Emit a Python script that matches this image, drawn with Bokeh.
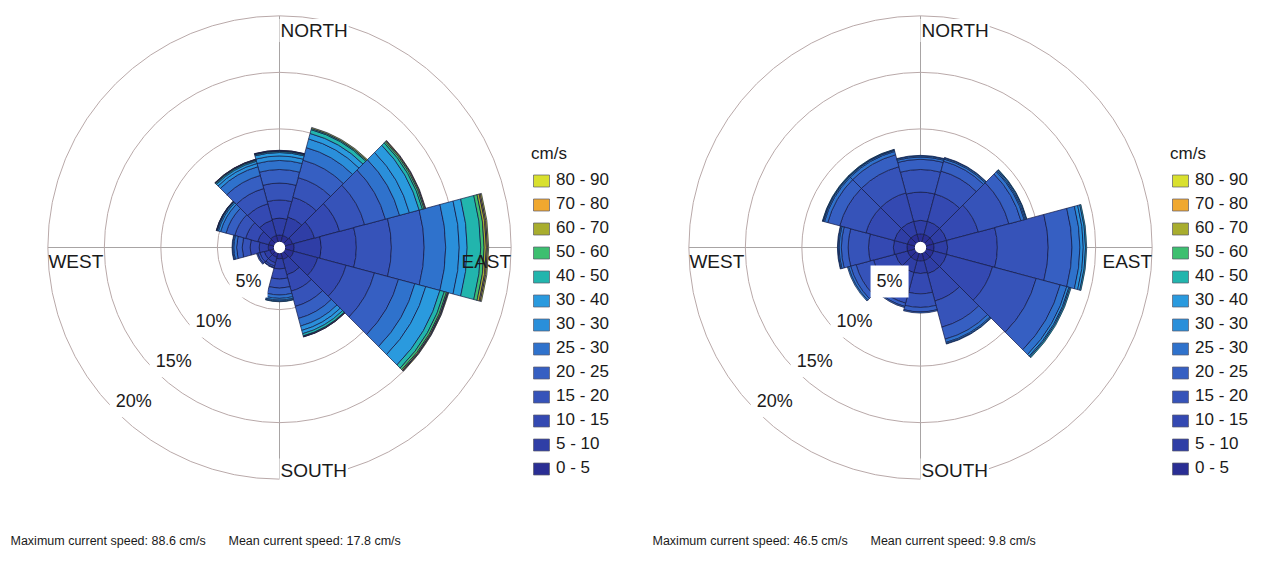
import math
from bokeh.plotting import figure
from bokeh.layouts import row
from bokeh.models import Range1d, Legend, LegendItem, Label, ColumnDataSource
from bokeh.embed import file_html
from bokeh.resources import INLINE
from bokeh.core.properties import value

# ---------------- data ----------------
speed_bins = ["0 - 5", "5 - 10", "10 - 15", "15 - 20", "20 - 25", "25 - 30", "30 - 30",
              "30 - 40", "40 - 50", "50 - 60", "60 - 70", "70 - 80", "80 - 90"]
bin_colors = ["#2a2e94", "#2f3ea6", "#3449b2", "#3653b9", "#365fc2", "#2f72cc", "#2a8fda",
              "#2a9ade", "#22b5ad", "#3dbf70", "#a8ad2e", "#f0a830", "#d9e02e"]
directions = [0, 30, 60, 90, 120, 150, 180, 210, 240, 270, 300, 330]   # compass degrees
ring_pcts = [5, 10, 15, 20]
ring_labels = ["5%", "10%", "15%", "20%"]

# left rose: frequency (%) per speed bin, per direction
left_000 = [0.6, 1.5, 1.6, 1.5, 1.2, 0.8, 0.4, 0.3, 0.1, 0.05, 0.03, 0.02, 0]
left_030 = [0.6, 1.7, 1.8, 1.8, 1.6, 1.15, 0.8, 0.5, 0.35, 0.1, 0.1, 0, 0]
left_060 = [0.7, 2.0, 2.3, 2.3, 1.9, 1.3, 0.9, 0.9, 0.3, 0.15, 0.1, 0.05, 0]
left_090 = [0.8, 2.4, 3.1, 3.1, 2.9, 1.9, 1.2, 0.7, 1.2, 0.3, 0.2, 0.1, 0.1]
left_120 = [0.8, 2.2, 2.6, 2.6, 2.2, 1.5, 1.0, 1.3, 0.4, 0.2, 0.1, 0.05, 0.05]
left_150 = [0.6, 1.4, 1.5, 1.4, 1.1, 0.7, 0.4, 0.3, 0.2, 0.05, 0.03, 0.02, 0]
left_180 = [0.5, 0.9, 0.9, 0.8, 0.6, 0.3, 0.15, 0.1, 0.05, 0, 0, 0, 0]
left_210 = [0.4, 0.5, 0.3, 0.15, 0.05, 0, 0, 0, 0, 0, 0, 0, 0]
left_240 = [0.4, 0.5, 0.4, 0.2, 0.1, 0, 0, 0, 0, 0, 0, 0, 0]
left_270 = [0.5, 0.8, 0.8, 0.7, 0.5, 0.25, 0.1, 0.05, 0, 0, 0, 0, 0]
left_300 = [0.5, 1.0, 1.1, 1.0, 0.8, 0.5, 0.2, 0.1, 0.05, 0.03, 0.02, 0, 0]
left_330 = [0.6, 1.4, 1.5, 1.4, 1.2, 0.8, 0.3, 0.2, 0.1, 0.05, 0.03, 0.02, 0]

# right rose
right_000 = [0.7, 1.2, 2.5, 2.0, 0.9, 0.2, 0.1, 0.05, 0, 0, 0, 0, 0]
right_030 = [0.7, 1.2, 2.5, 2.1, 0.9, 0.2, 0.1, 0.05, 0, 0, 0, 0, 0]
right_060 = [0.7, 1.2, 2.9, 2.8, 1.1, 0.3, 0.1, 0.1, 0.05, 0, 0, 0, 0]
right_090 = [0.7, 1.2, 4.4, 4.5, 2.1, 0.7, 0.3, 0.2, 0.1, 0, 0, 0, 0]
right_120 = [0.7, 1.2, 4.2, 4.0, 2.2, 0.6, 0.2, 0.1, 0.1, 0, 0, 0, 0]
right_150 = [0.7, 1.2, 2.5, 2.4, 1.1, 0.3, 0.1, 0.05, 0, 0, 0, 0, 0]
right_180 = [0.7, 1.1, 1.8, 1.2, 0.4, 0.1, 0, 0, 0, 0, 0, 0, 0]
right_210 = [0.7, 1.1, 1.7, 1.1, 0.3, 0.1, 0, 0, 0, 0, 0, 0, 0]
right_240 = [0.7, 1.1, 2.0, 1.6, 0.5, 0.2, 0.1, 0, 0, 0, 0, 0, 0]
right_270 = [0.7, 1.2, 2.2, 1.8, 0.6, 0.2, 0.1, 0.05, 0, 0, 0, 0, 0]
right_300 = [0.7, 1.2, 2.6, 2.4, 1.1, 0.3, 0.1, 0.05, 0.05, 0, 0, 0, 0]
right_330 = [0.7, 1.2, 2.6, 2.4, 1.1, 0.3, 0.1, 0.05, 0.05, 0, 0, 0, 0]

left_stats = ["Maximum current speed: 88.6 cm/s", "Mean current speed: 17.8 cm/s"]
right_stats = ["Maximum current speed: 46.5 cm/s", "Mean current speed: 9.8 cm/s"]

left_dirs = [left_000, left_030, left_060, left_090, left_120, left_150,
             left_180, left_210, left_240, left_270, left_300, left_330]
right_dirs = [right_000, right_030, right_060, right_090, right_120, right_150,
              right_180, right_210, right_240, right_270, right_300, right_330]

# ---------------- layout ----------------
SCALE = 11.3      # px per percent
HOLE = 0.5        # inner hole (in % units)
H = 558
CY = 247          # rose centre from top (px)
FONT = "Liberation Sans"
SECTOR = 30.0
TXT = "#1a1a1a"


def make_rose(dir_values, width, cx, stats, legend_x, stats_x):
    p = figure(width=width, height=H, output_backend="svg", toolbar_location=None,
               x_axis_type=None, y_axis_type=None, min_border=0,
               outline_line_color=None,
               x_range=Range1d(-cx / SCALE, (width - cx) / SCALE),
               y_range=Range1d(-(H - CY) / SCALE, CY / SCALE))
    p.grid.visible = False
    p.background_fill_color = "white"

    rmax = HOLE + ring_pcts[-1]
    # grid: spokes and rings
    p.segment(x0=[-rmax, 0], y0=[0, -rmax], x1=[rmax, 0], y1=[0, rmax],
              line_color="#a8a4a4", line_width=1)
    p.circle(x=[0] * len(ring_pcts), y=[0] * len(ring_pcts),
             radius=[HOLE + r for r in ring_pcts],
             fill_color=None, line_color="#b9a9a9", line_width=1)

    # stacked sectors
    cum = [0.0] * len(directions)
    for k, lab in enumerate(speed_bins):
        xs, inner, outer, sa, ea = [], [], [], [], []
        for j, d in enumerate(directions):
            v = dir_values[j][k]
            if v > 0:
                xs.append(0)
                inner.append(HOLE + cum[j])
                outer.append(HOLE + cum[j] + v)
                sa.append(math.radians(90 - d - SECTOR / 2))
                ea.append(math.radians(90 - d + SECTOR / 2))
            cum[j] += v
        src = ColumnDataSource(dict(x=xs, y=xs, ir=inner, orr=outer, sa=sa, ea=ea))
        p.annular_wedge(x="x", y="y", inner_radius="ir", outer_radius="orr",
                        start_angle="sa", end_angle="ea", source=src,
                        fill_color=bin_colors[k], line_color="#141a45",
                        line_width=0.7)

    # legend swatches (off-screen proxies, so that every bin gets a swatch)
    proxies = []
    for k in range(len(speed_bins)):
        proxies.append(p.rect(x=[1000], y=[1000], width=1, height=1,
                              fill_color=bin_colors[k], line_color="#5a5a6a",
                              line_width=0.7))

    # hole
    p.circle(x=[0], y=[0], radius=HOLE, fill_color="white", line_color=None)

    # compass labels
    fs = "19px"
    p.text(x=[0], y=[19.2], text=["NORTH"], anchor="center_left",
           text_font=value(FONT), text_font_size=fs, text_color=TXT,
           background_fill_color="white", padding=1)
    p.text(x=[0], y=[-19.7], text=["SOUTH"], anchor="center_left",
           text_font=value(FONT), text_font_size=fs, text_color=TXT,
           background_fill_color="white", padding=1)
    p.text(x=[-20.45], y=[-1.2], text=["WEST"], anchor="center_left",
           text_font=value(FONT), text_font_size=fs, text_color=TXT)
    p.text(x=[20.5], y=[-1.2], text=["EAST"], anchor="center_right",
           text_font=value(FONT), text_font_size=fs, text_color=TXT)

    # percentage labels along 225 degrees
    a = math.radians(90 - 225)
    lx = [(HOLE + r) * math.cos(a) for r in ring_pcts]
    ly = [(HOLE + r) * math.sin(a) for r in ring_pcts]
    p.text(x=lx, y=ly, text=ring_labels, anchor="bottom_left",
           text_font=value(FONT), text_font_size="18px", text_color=TXT,
           background_fill_color="white", padding=6, x_offset=-6, y_offset=6)

    legend = Legend(items=[LegendItem(label=speed_bins[k], renderers=[proxies[k]])
                           for k in range(len(speed_bins) - 1, -1, -1)],
                    location=(legend_x, 80), title="cm/s",
                    title_text_font=FONT, title_text_font_size="17px",
                    title_text_font_style="normal", title_text_color=TXT,
                    label_text_font=FONT, label_text_font_size="17px",
                    label_text_color=TXT,
                    glyph_width=20, glyph_height=15, label_height=15,
                    spacing=4, padding=0, margin=0, label_standoff=5,
                    title_standoff=6,
                    border_line_color=None, background_fill_alpha=0)
    p.add_layout(legend)

    for txt, sx in zip(stats, stats_x):
        p.add_layout(Label(x=sx, y=H - 540, x_units="screen", y_units="screen", text=txt,
                           text_font=FONT, text_font_size="12.5px",
                           text_baseline="middle", text_color=TXT))
    return p


p1 = make_rose(left_dirs, 648, 279, left_stats, 531, [10, 228])
p2 = make_rose(right_dirs, 608, 272, right_stats, 522, [4, 222])

layout = row(p1, p2, spacing=0)
open("out.html", "w").write(file_html(layout, INLINE))
